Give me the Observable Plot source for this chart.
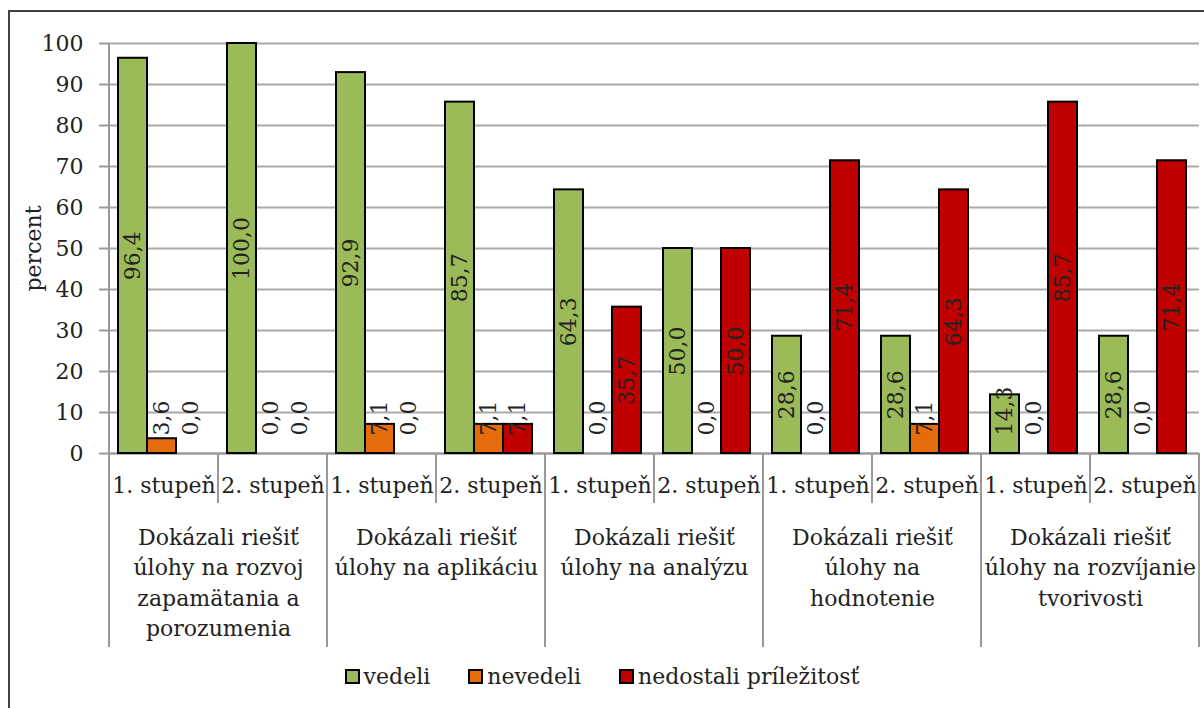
<!DOCTYPE html>
<html>
<head>
<meta charset="utf-8">
<script src="https://cdn.jsdelivr.net/npm/d3@7"></script>
<script src="https://cdn.jsdelivr.net/npm/@observablehq/plot@0.6"></script>
<style>
  html, body { margin: 0; padding: 0; background: #fff; width: 1204px; height: 708px; overflow: hidden; }
  #frame { position: absolute; left: 8px; top: 10px; width: 1400px; height: 900px; border-left: 2px solid #404040; border-top: 2px solid #404040; }
  #chart { position: absolute; left: 0; top: 0; }
  #legend { position: absolute; left: 0; top: 664px; width: 1204px; display: flex; justify-content: center; align-items: center;
            font-family: "DejaVu Serif", serif; font-size: 22px; color: #222; }
  .item { display: flex; align-items: center; margin: 0 19px; }
  .sw { width: 11px; height: 11px; border: 2px solid #000; margin-right: 4px; }
</style>
</head>
<body>
<div id="frame"></div>
<div id="chart"></div>
<div id="legend"></div>
<script>
// ---- data ----
const groups = [
  "Dokázali riešiť\núlohy na rozvoj\nzapamätania a\nporozumenia",
  "Dokázali riešiť\núlohy na aplikáciu",
  "Dokázali riešiť\núlohy na analýzu",
  "Dokázali riešiť\núlohy na\nhodnotenie",
  "Dokázali riešiť\núlohy na rozvíjanie\ntvorivosti"
];
const levels = ["1. stupeň", "2. stupeň"];
const series = ["vedeli", "nevedeli", "nedostali príležitosť"];
const colors = ["#9BBB59", "#E46C0A", "#C00000"];
// one value per (group, level) in order: g1-1, g1-2, g2-1, g2-2, ...
const vedeli    = [96.4, 100.0, 92.9, 85.7, 64.3, 50.0, 28.6, 28.6, 14.3, 28.6];
const nevedeli  = [3.6, 0.0, 7.1, 7.1, 0.0, 0.0, 0.0, 7.1, 0.0, 0.0];
const nedostali = [0.0, 0.0, 0.0, 7.1, 35.7, 50.0, 71.4, 64.3, 85.7, 71.4];
const yTicks = [0, 10, 20, 30, 40, 50, 60, 70, 80, 90, 100];

// ---- table ----
const seriesValues = [vedeli, nevedeli, nedostali];
const keys = d3.range(groups.length * levels.length);
const rows = [];
keys.forEach(k => series.forEach((s, j) => rows.push({key: k, series: s, value: seriesValues[j][k]})));
const groupRows = groups.map((g, i) => ({key: i * levels.length, label: g}));
const fmt = v => d3.format(".1f")(v).replace(".", ",");

const font = "DejaVu Serif";
const txt = "#222";
const H = 660, plotTop = 43, plotBase = 453;

const plot = Plot.plot({
  width: 1204,
  height: H,
  marginTop: plotTop,
  marginBottom: H - plotBase,
  marginLeft: 108,
  marginRight: 4,
  style: {fontFamily: font, fontSize: "22px", background: "transparent", color: txt, overflow: "visible"},
  fx: {domain: keys, padding: 0},
  x: {domain: series, paddingInner: 0, paddingOuter: 0.36, align: 0.4, axis: null},
  y: {domain: [0, 100]},
  color: {domain: series, range: colors},
  marks: [
    Plot.gridY(yTicks, {stroke: "#aaaaaa", strokeOpacity: 1, strokeWidth: 2}),
    Plot.axisY(yTicks, {tickSize: 10, tickPadding: 16, stroke: "#999", strokeWidth: 2, fill: txt,
      label: "percent", labelArrow: "none", labelAnchor: "center", labelOffset: 84, fontSize: 22}),
    Plot.axisFx({anchor: "bottom", tickSize: 0, tickPadding: 24, label: null, fill: txt,
      tickFormat: k => levels[k % levels.length], fontSize: 22}),
    Plot.ruleY([0], {stroke: "#999", strokeWidth: 2}),
    Plot.barY(rows.filter(d => d.value > 0), {fx: "key", x: "series", y: "value", fill: "series", stroke: "#000", strokeWidth: 2}),
    Plot.text(rows.filter(d => d.value >= 20), {fx: "key", x: "series", y: d => d.value / 2, text: d => fmt(d.value),
      rotate: -90, fill: txt, fontSize: 22}),
    Plot.text(rows.filter(d => d.value < 20), {fx: "key", x: "series", y: 0, text: d => fmt(d.value),
      rotate: -90, textAnchor: "start", dy: -18, fill: txt, fontSize: 22}),
    Plot.text(groupRows, {fx: "key", text: "label", frameAnchor: "bottom-right", lineAnchor: "top", textAnchor: "middle",
      lineHeight: 1.38, dy: 70, fill: txt, fontSize: 22})
  ]
});
document.getElementById("chart").appendChild(plot);

// category separators of the two-level axis, positioned from the fx scale
const fxs = plot.scale("fx");
const svg = d3.select(plot);
const edges = keys.map(k => fxs.apply(k)).concat([fxs.apply(keys[keys.length - 1]) + fxs.bandwidth]);
edges.forEach((x, i) => {
  const major = i % levels.length === 0;
  svg.append("line")
    .attr("x1", x).attr("x2", x)
    .attr("y1", i === 0 ? plotTop : plotBase)
    .attr("y2", major ? 647 : 503)
    .attr("stroke", "#999").attr("stroke-width", 2);
});

// legend
const legend = d3.select("#legend");
series.forEach((s, i) => {
  const it = legend.append("div").attr("class", "item");
  it.append("div").attr("class", "sw").style("background", colors[i]);
  it.append("span").text(s);
});
</script>
</body>
</html>
